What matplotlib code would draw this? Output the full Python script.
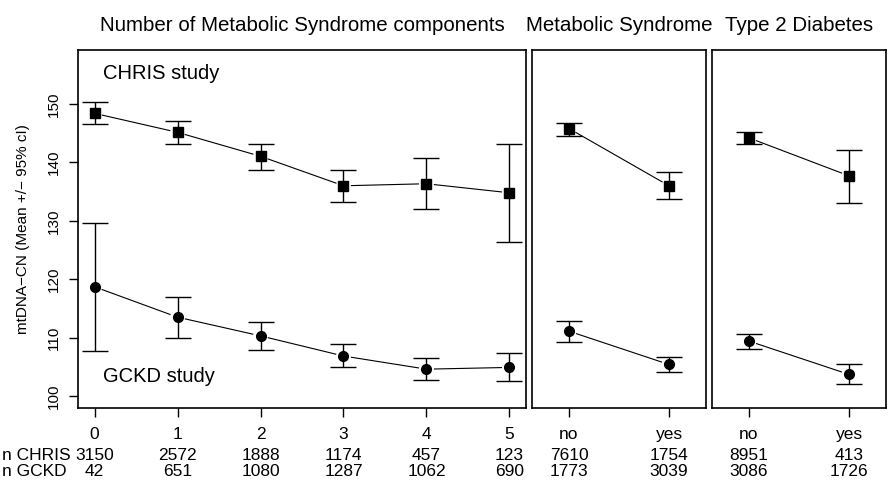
import numpy as np
import matplotlib
matplotlib.use('Agg')
import matplotlib.pyplot as plt
from matplotlib.transforms import blended_transform_factory

plt.rcParams['font.family'] = ['Liberation Sans', 'DejaVu Sans']

# panel data: (x labels, CHRIS mean/lo/hi, GCKD mean/lo/hi, n CHRIS, n GCKD)
comp_labels = ['0', '1', '2', '3', '4', '5']
comp_chris = [148.4, 145.15, 141.05, 136.0, 136.35, 134.8]
comp_chris_lo = [146.5, 143.15, 138.75, 133.3, 132.0, 126.4]
comp_chris_hi = [150.3, 147.1, 143.2, 138.75, 140.7, 143.15]
comp_gckd = [118.7, 113.5, 110.3, 106.85, 104.6, 104.9]
comp_gckd_lo = [107.7, 110.0, 107.9, 104.9, 102.7, 102.6]
comp_gckd_hi = [129.6, 117.0, 112.7, 108.95, 106.5, 107.3]
comp_n_chris = [3150, 2572, 1888, 1174, 457, 123]
comp_n_gckd = [42, 651, 1080, 1287, 1062, 690]

ms_labels = ['no', 'yes']
ms_chris = [145.8, 136.0]
ms_chris_lo = [144.6, 133.8]
ms_chris_hi = [146.8, 138.3]
ms_gckd = [111.1, 105.4]
ms_gckd_lo = [109.3, 104.1]
ms_gckd_hi = [112.8, 106.6]
ms_n_chris = [7610, 1754]
ms_n_gckd = [1773, 3039]

t2d_labels = ['no', 'yes']
t2d_chris = [144.2, 137.7]
t2d_chris_lo = [143.1, 133.0]
t2d_chris_hi = [145.2, 142.1]
t2d_gckd = [109.4, 103.7]
t2d_gckd_lo = [108.0, 102.05]
t2d_gckd_hi = [110.7, 105.4]
t2d_n_chris = [8951, 413]
t2d_n_gckd = [3086, 1726]

titles = ['Number of Metabolic Syndrome components', 'Metabolic Syndrome', 'Type 2 Diabetes']

W, H = 895, 487
fig = plt.figure(figsize=(W / 100, H / 100), dpi=100)

# panel boxes in pixels: left, right
boxes = [(78, 526), (532, 706), (712, 886)]
top_px, bot_px = 50, 408

panels = [
    (comp_labels, comp_chris, comp_chris_lo, comp_chris_hi, comp_gckd, comp_gckd_lo, comp_gckd_hi, comp_n_chris, comp_n_gckd),
    (ms_labels, ms_chris, ms_chris_lo, ms_chris_hi, ms_gckd, ms_gckd_lo, ms_gckd_hi, ms_n_chris, ms_n_gckd),
    (t2d_labels, t2d_chris, t2d_chris_lo, t2d_chris_hi, t2d_gckd, t2d_gckd_lo, t2d_gckd_hi, t2d_n_chris, t2d_n_gckd),
]
xlims = [(-0.2, 5.2), (-0.37, 1.37), (-0.37, 1.37)]


def gapped_line(ax, x, y, gap=8):
    # R type="b" look: segments stop short of the points
    pts = ax.transData.transform(np.column_stack([x, y]))
    inv = ax.transData.inverted()
    for p0, p1 in zip(pts[:-1], pts[1:]):
        d = p1 - p0
        L = np.hypot(*d)
        if L <= 2 * gap:
            continue
        u = d / L
        a = inv.transform(p0 + u * gap)
        b = inv.transform(p1 - u * gap)
        ax.plot([a[0], b[0]], [a[1], b[1]], color='black', lw=0.8, zorder=2)


for i, (panel, (l, r)) in enumerate(zip(panels, boxes)):
    labels, c, clo, chi, g, glo, ghi, nc, ng = panel
    ax = fig.add_axes([l / W, (H - bot_px) / H, (r - l) / W, (bot_px - top_px) / H])
    x = np.arange(len(labels))
    ax.set_xlim(*xlims[i])
    ax.set_ylim(97.95, 159.25)

    for m, lo, hi, mk, sz in [(c, clo, chi, 's', 6.5), (g, glo, ghi, 'o', 7)]:
        m = np.array(m)
        yerr = [m - np.array(lo), np.array(hi) - m]
        ax.errorbar(x, m, yerr=yerr, fmt=mk, color='black', ms=sz,
                    elinewidth=1.0, capsize=9.4, capthick=1.0, zorder=3)
        gapped_line(ax, x, m)

    ax.set_xticks(x)
    ax.set_xticklabels(labels)
    ax.tick_params(axis='x', length=6.5, width=1, labelsize=12.5, pad=7)
    for s in ax.spines.values():
        s.set_linewidth(1.2)

    if i == 0:
        ax.set_yticks([100, 110, 120, 130, 140, 150])
        ax.tick_params(axis='y', length=6.5, width=1, labelsize=11, pad=6)
        for t in ax.get_yticklabels():
            t.set_rotation(90)
            t.set_va('center')
        ax.set_ylabel('mtDNA\u2212CN (Mean +/\u2212 95% cI)', fontsize=11, labelpad=12)
        ax.text(0.1, 155.3, 'CHRIS study', fontsize=14.5, va='center', ha='left')
        ax.text(0.1, 103.3, 'GCKD study', fontsize=14.5, va='center', ha='left')
    else:
        ax.set_yticks([])

    ax.set_title(titles[i], fontsize=14.8, pad=14)

    tr = blended_transform_factory(ax.transData, fig.transFigure)
    for xi, a, b in zip(x, nc, ng):
        ax.text(xi, 1 - 455 / H, str(a), transform=tr, ha='center', va='center', fontsize=12.5)
        ax.text(xi, 1 - 471 / H, str(b), transform=tr, ha='center', va='center', fontsize=12.5)

fig.text(2 / W, 1 - 455 / H, 'n CHRIS', ha='left', va='center', fontsize=12.5)
fig.text(2 / W, 1 - 471 / H, 'n GCKD', ha='left', va='center', fontsize=12.5)

fig.savefig('out.png', dpi=100)
